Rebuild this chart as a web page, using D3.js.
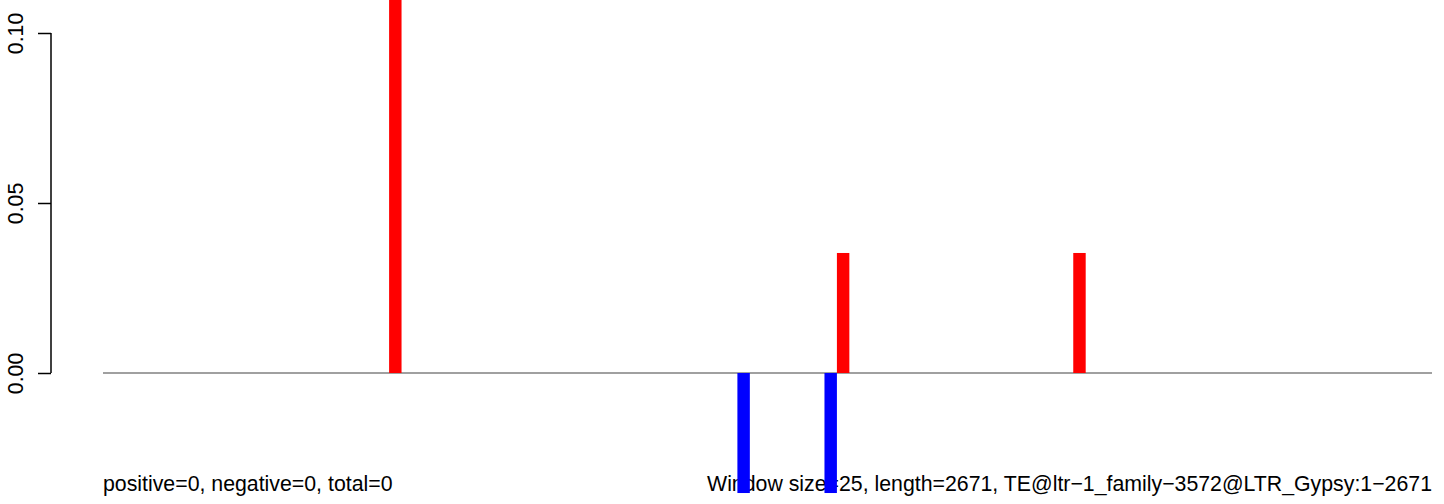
<!DOCTYPE html>
<html><head><meta charset="utf-8">
<script src="https://cdn.jsdelivr.net/npm/d3@7"></script>
<style>body{margin:0;background:#fff}svg{display:block}text{font-family:"Liberation Sans",Arial,sans-serif}</style>
</head><body><svg id="c" width="1444" height="504"></svg>
<script>
const seqLength = 2671;
const windowSize = 25;
const positiveStarts = [575, 1475, 1950];
const positiveValues = [0.12, 0.0353, 0.0353];
const negativeStarts = [1275, 1450];
const negativeValues = [-0.0353, -0.0353];
const yTicks = [0.00, 0.05, 0.10];
const leftLabel = "positive=0, negative=0, total=0";
const rightLabel = "Window size=25, length=2671, TE@ltr\u22121_family\u22123572@LTR_Gypsy:1\u22122671";

const FS = 21.3;
const svg = d3.select("#c");
const x = d3.scaleLinear().domain([0, seqLength]).range([103, 1432]);
const y = d3.scaleLinear().domain([0, 0.1]).range([373, 33]);

// y axis
const ax = svg.append("g").attr("transform","translate(51,0)")
  .call(d3.axisLeft(y).tickValues(yTicks).tickSize(13).tickFormat(d3.format(".2f")));
ax.select(".domain").attr("stroke","#000").attr("stroke-width",1.5).attr("d","M0,"+y(0)+"V"+y(0.1));
ax.selectAll(".tick line").attr("stroke","#000").attr("stroke-width",1.5);
ax.selectAll(".tick text").attr("transform","rotate(-90)").attr("x",0).attr("y",-28.5)
  .attr("dy",0).attr("text-anchor","middle").attr("font-size",FS).attr("fill","#000")
  .attr("font-family","Liberation Sans, Arial, sans-serif");

// baseline
svg.append("line").attr("x1",x(0)).attr("x2",x(seqLength)).attr("y1",y(0)).attr("y2",y(0))
  .attr("stroke","#a0a0a0").attr("stroke-width",2);

// labels
svg.append("text").attr("x",x(0)).attr("y",491).attr("font-size",FS).attr("fill","#000").text(leftLabel);
svg.append("text").attr("x",x(seqLength)).attr("y",491).attr("text-anchor","end").attr("font-size",FS).attr("fill","#000").text(rightLabel);

// bars
svg.selectAll(".pos").data(positiveStarts.map((s,i)=>({s,v:positiveValues[i]}))).enter().append("rect")
  .attr("x",d=>x(d.s)).attr("width",d=>x(d.s+windowSize)-x(d.s))
  .attr("y",d=>y(d.v)).attr("height",d=>y(0)-y(d.v)).attr("fill","#ff0000");
svg.selectAll(".neg").data(negativeStarts.map((s,i)=>({s,v:negativeValues[i]}))).enter().append("rect")
  .attr("x",d=>x(d.s)).attr("width",d=>x(d.s+windowSize)-x(d.s))
  .attr("y",y(0)).attr("height",d=>y(d.v)-y(0)).attr("fill","#0000ff");
</script></body></html>
